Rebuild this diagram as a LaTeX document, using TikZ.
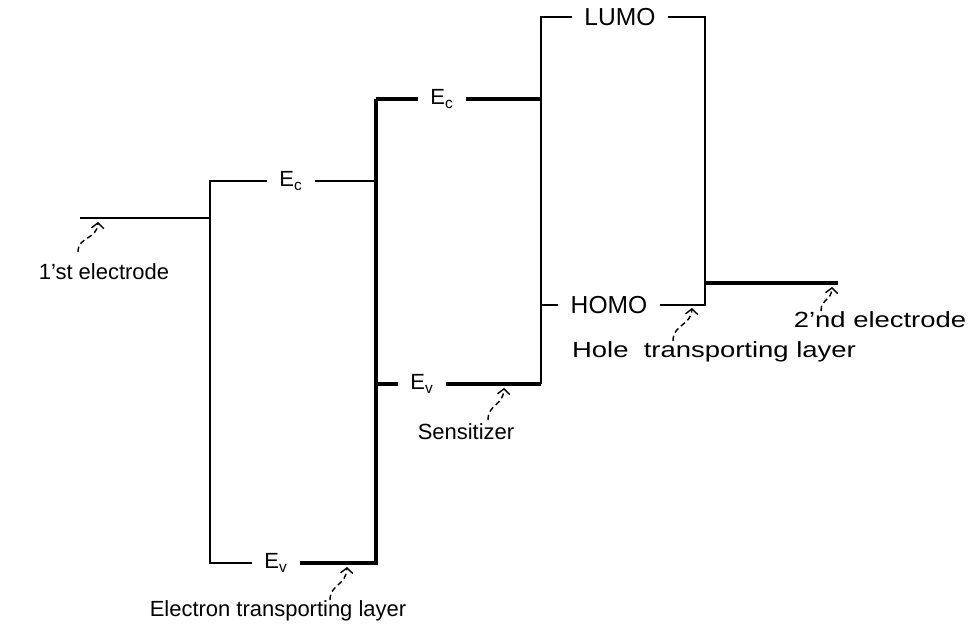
\documentclass[tikz,border=0pt]{standalone}
\usepackage{fontspec}
\usepackage{graphicx}
\setmainfont{Liberation Sans}
\usetikzlibrary{arrows.meta}
\begin{document}
\begin{tikzpicture}[x=0.02cm, y=-0.02cm,
  thinlvl/.style={line width=1.1pt},
  thicklvl/.style={line width=2pt},
  lvllabel/.style={font=\fontsize{12.5}{15}\selectfont, inner xsep=7pt, inner ysep=1pt},
  orbital/.style={lvllabel, font=\fontsize{14}{16}\selectfont},
  layerlabel/.style={font=\fontsize{12.5}{15}\selectfont, inner sep=1pt},
  pointer/.style={densely dashed, line width=0.8pt, -{Straight Barb[length=3pt,width=7pt]}}]
\useasboundingbox (0,0) rectangle (980,634);
% Level labels
\node[lvllabel] (etlc) at (291,181) {E\textsubscript{c}};
\node[lvllabel] (etlv) at (276,563) {E\textsubscript{v}};
\node[lvllabel] (senc) at (442,99) {E\textsubscript{c}};
\node[lvllabel] (senv) at (422,384) {E\textsubscript{v}};
\node[orbital] (lumo) at (620,17) {LUMO};
\node[orbital] (homo) at (609,305) {HOMO};
% Corners of the bands
\coordinate (etltl) at (210,181);
\coordinate (etlbl) at (210,563);
\coordinate (etltr) at (376,181);
\coordinate (etlbr) at (376,563);
\coordinate (sentl) at (376,99);
\coordinate (sentr) at (541,99);
\coordinate (senbl) at (376,384);
\coordinate (senbr) at (541,384);
\coordinate (htltl) at (541,17);
\coordinate (htlbl) at (541,305);
\coordinate (htltr) at (705,17);
\coordinate (htlbr) at (705,305);
\coordinate (el1a) at (80,218);
\coordinate (el1b) at (210,218);
\coordinate (el2a) at (705,283);
\coordinate (el2b) at (838,283);
% Electrodes
\draw[line width=1.4pt] (el1a) -- (el1b);
\draw[thicklvl] (el2a) -- (el2b);
% Electron transporting layer
\draw[thinlvl] (etlc.west) -- (etltl) -- (etlbl) -- (etlv.west);
\draw[thinlvl] (etlc.east) -- (etltr);
\draw[thicklvl] (etlv.east) -- (etlbr) -- (sentl);
% Sensitizer
\draw[thicklvl] (sentl) -- (senc.west);
\draw[thicklvl] (senc.east) -- (sentr);
\draw[thicklvl] (senbl) -- (senv.west);
\draw[thicklvl] (senv.east) -- (senbr);
% Hole transporting layer
\draw[thinlvl] (lumo.west) -- (htltl) -- (senbr);
\draw[thinlvl] (htlbl) -- (homo.west);
\draw[thinlvl] (lumo.east) -- (htltr) -- (htlbr) -- (homo.east);
% Layer names
\node[layerlabel] (el1) at (104,272) {1'st electrode};
\node[layerlabel] (etl) at (278,611) {Electron transporting layer};
\node[layerlabel] (sens) at (466,432) {Sensitizer};
\node[layerlabel] (htl) at (714,352) {\scalebox{1.25}[1]{Hole\ \ transporting layer}};
\node[layerlabel] (el2) at (880,320) {\scalebox{1.25}[1]{2'nd electrode}};
% Pointers
\coordinate (el1tip) at (98,222);
\coordinate (el1tail) at (78,252);
\coordinate (etltip) at (347,567);
\coordinate (etltail) at (330,600);
\coordinate (sentip) at (504,388);
\coordinate (sentail) at (488,420);
\coordinate (htltip) at (692,308);
\coordinate (htltail) at (673,341);
\coordinate (el2tip) at (832,287);
\coordinate (el2tail) at (821,311);
\draw[pointer] (el1tail) .. controls (78,236) and (97,240) .. (el1tip);
\draw[pointer] (etltail) .. controls (330,584) and (346,586) .. (etltip);
\draw[pointer] (sentail) .. controls (488,404) and (503,406) .. (sentip);
\draw[pointer] (htltail) .. controls (673,324) and (691,326) .. (htltip);
\draw[pointer] (el2tail) .. controls (821,298) and (831,302) .. (el2tip);
\end{tikzpicture}
\end{document}
